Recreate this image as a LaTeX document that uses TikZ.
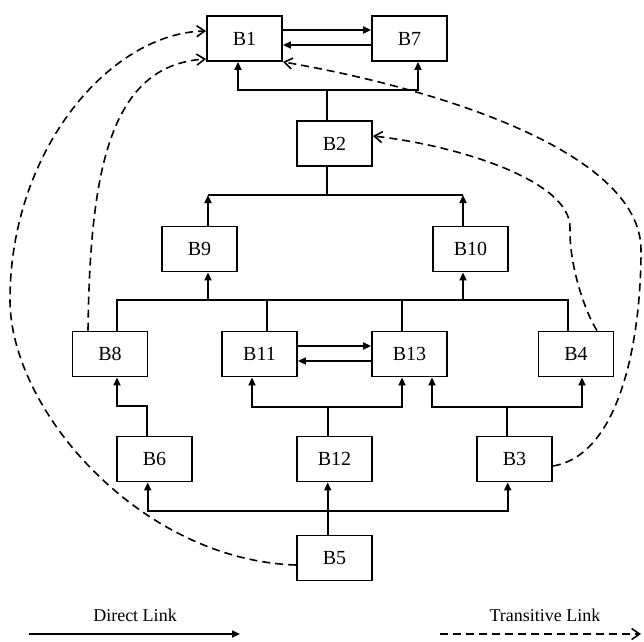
\documentclass[tikz,border=0pt]{standalone}
\usepackage{fontspec}
\setmainfont{Liberation Serif}
\usetikzlibrary{arrows.meta}
\begin{document}
\begin{tikzpicture}[x=1pt,y=-1pt,
  bx/.style={draw, line width=1.8pt, minimum width=75pt, minimum height=45pt, inner sep=0pt, font=\fontsize{20}{24}\selectfont},
  plain/.style={line width=1.7pt},
  dlink/.style={line width=1.7pt, -{Triangle[length=8pt,width=7pt]}},
  tlink/.style={line width=1.6pt, dash pattern=on 8pt off 5pt, -{Straight Barb[length=8pt,width=11pt,line width=1.6pt]}},
  lab/.style={font=\fontsize{18}{22}\selectfont, inner sep=0pt}]
\useasboundingbox (0,0) rectangle (644,641);

% boxes
\node[bx] (B1)  at (244.5,38.5) {B1};
\node[bx] (B7)  at (409.5,38.5) {B7};
\node[bx] (B2)  at (334.5,143.5) {B2};
\node[bx] (B9)  at (199.5,249) {B9};
\node[bx] (B10) at (470.5,249) {B10};
\node[bx] (B8)  at (110,354) {B8};
\node[bx] (B11) at (259.5,354) {B11};
\node[bx] (B13) at (409.5,354) {B13};
\node[bx] (B4)  at (576,354) {B4};
\node[bx] (B6)  at (154.5,459) {B6};
\node[bx] (B12) at (334.5,459) {B12};
\node[bx] (B3)  at (514.5,459) {B3};
\node[bx] (B5)  at (334.5,558) {B5};

% junctions
\coordinate (j1) at (327,90);
\coordinate (j2) at (327,195);
\coordinate (j12) at (327.7,406.7);
\coordinate (j3) at (507,406.7);
\coordinate (j5) at (327.7,510.7);

% B1 <-> B7
\draw[dlink] (B1.east |- 0,30) -- (B7.west |- 0,30);
\draw[dlink] (B7.west |- 0,45) -- (B1.east |- 0,45);

% B2 -> B1, B7
\draw[plain] (B2.north -| j1) -- (j1);
\draw[dlink] (j1) -| (B1.south -| 238,0);
\draw[dlink] (j1) -| (B7.south -| 418,0);

% B9, B10 -> B2
\draw[plain] (B2.south -| j2) -- (j2);
\draw[plain] (208,195) -- (463,195);
\draw[dlink] (B9.north -| 208,0) -- (208,195);
\draw[dlink] (B10.north -| 463,0) -- (463,195);

% B8, B11, B13, B4 -> B9, B10
\draw[plain] (B8.north -| 117,0) -- (117,300) -- (568,300) -- (B4.north -| 568,0);
\draw[plain] (B11.north -| 267,0) -- (267,300);
\draw[plain] (B13.north -| 402,0) -- (402,300);
\draw[dlink] (208,300) -- (B9.south -| 208,0);
\draw[dlink] (463,300) -- (B10.south -| 463,0);

% B11 <-> B13
\draw[dlink] (B11.east |- 0,346) -- (B13.west |- 0,346);
\draw[dlink] (B13.west |- 0,361) -- (B11.east |- 0,361);

% B6 -> B8
\draw[dlink] (B6.north -| 147,0) -- (147,406) -- (117,406) -- (B8.south -| 117,0);

% B12 -> B11, B13
\draw[plain] (B12.north -| j12) -- (j12);
\draw[dlink] (j12) -| (B11.south -| 252,0);
\draw[dlink] (j12) -| (B13.south -| 402,0);

% B3 -> B13, B4
\draw[plain] (B3.north -| j3) -- (j3);
\draw[dlink] (j3) -| (B13.south -| 432,0);
\draw[dlink] (j3) -| (B4.south -| 582,0);

% B5 -> B12, B6, B3
\draw[dlink] (B5.north -| j5) -- (B12.south -| j5);
\draw[dlink] (j5) -| (B6.south -| 147.7,0);
\draw[dlink] (j5) -| (B3.south -| 507.7,0);

% transitive links
\draw[tlink] (B8.north -| 88,0) .. controls (90,170) and (110,65) .. (B1.west |- 0,59);
\draw[tlink] (B5.west |- 0,565) .. controls (140,560) and (10,410) .. (10,300)
  .. controls (10,150) and (110,33) .. (B1.west |- 0,31);
\draw[tlink] (B3.east |- 0,466) .. controls (620,455) and (641,340) .. (641,250)
  .. controls (641,150) and (430,87) .. (B1.south east);
\draw[tlink] (B4.north -| 597,0) .. controls (585,312) and (569,265) .. (570,228)
  .. controls (571,180) and (455,145) .. (B2.east |- 0,136);

% legend
\node[lab] (dlab) at (135,615) {Direct Link};
\node[lab] (tlab) at (545,615) {Transitive Link};
\coordinate (ds) at (29,634);
\coordinate (de) at (240,634);
\coordinate (ts) at (440,634);
\coordinate (te) at (641,634);
\draw[dlink] (ds) -- (de);
\draw[tlink] (ts) -- (te);
\end{tikzpicture}
\end{document}
